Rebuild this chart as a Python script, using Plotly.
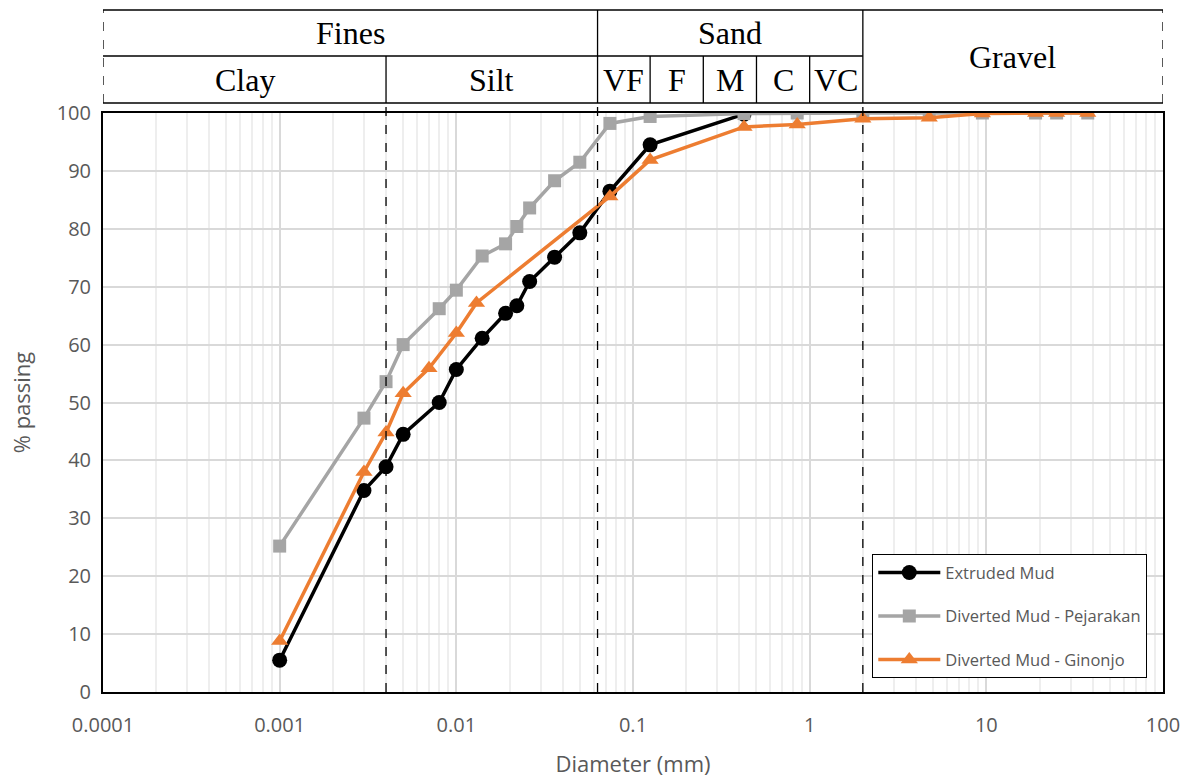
import math
import plotly.graph_objects as go

# ---------------- data ----------------
diam_extruded = [0.001, 0.003, 0.004, 0.005, 0.008, 0.01, 0.014, 0.019, 0.022, 0.026, 0.036, 0.05, 0.074, 0.125, 0.425]
pass_extruded = [5.5, 34.8, 38.9, 44.5, 50.0, 55.7, 61.1, 65.4, 66.7, 70.9, 75.1, 79.3, 86.5, 94.5, 99.8]

diam_pejarakan = [0.001, 0.003, 0.004, 0.005, 0.008, 0.01, 0.014, 0.019, 0.022, 0.026, 0.036, 0.05,
                  0.074, 0.125, 0.425, 0.85, 2.0, 4.75, 9.5, 19.0, 25.0, 37.5]
pass_pejarakan = [25.2, 47.3, 53.6, 60.0, 66.2, 69.4, 75.3, 77.4, 80.4, 83.6, 88.3, 91.5,
                  98.2, 99.4, 99.9, 100, 100, 100, 100, 100, 100, 100]

diam_ginonjo = [0.001, 0.003, 0.004, 0.005, 0.007, 0.01, 0.013, 0.074, 0.125, 0.425, 0.85, 2.0,
                4.75, 9.5, 19.0, 25.0, 37.5]
pass_ginonjo = [8.8, 38.0, 44.8, 51.6, 55.9, 62.0, 67.2, 85.6, 91.9, 97.6, 98.0, 99.0,
                99.2, 99.9, 100, 100, 100]

series_names = ["Extruded Mud", "Diverted Mud - Pejarakan", "Diverted Mud - Ginonjo"]

x_tick_vals = [0.0001, 0.001, 0.01, 0.1, 1, 10, 100]
x_tick_text = ["0.0001", "0.001", "0.01", "0.1", "1", "10", "100"]

# size-class boundaries (mm)
x_min, x_max = 0.0001, 100
clay_silt = 0.004
fines_sand = 0.063
sand_gravel = 2.0
sand_bounds = [0.063, 0.125, 0.25, 0.5, 1.0, 2.0]
sand_labels = ["VF", "F", "M", "C", "VC"]

# ---------------- figure ----------------
W, H = 1190, 780
L, R, T, B = 103, 27, 113, 88
ph = H - T - B

def py(px):  # pixel row -> paper y
    return (H - B - px) / ph

y_top = py(10)
y_mid = py(56)
y_bot = py(103)

fig = go.Figure()
fig.add_trace(go.Scatter(x=diam_extruded, y=pass_extruded, name=series_names[0], mode="lines+markers",
                         line=dict(color="#000000", width=3.5),
                         marker=dict(symbol="circle", size=15, color="#000000"),
                         legendgroup="a"))
fig.add_trace(go.Scatter(x=diam_pejarakan, y=pass_pejarakan, name=series_names[1], mode="lines+markers",
                         line=dict(color="#A5A5A5", width=3.5),
                         marker=dict(symbol="square", size=13, color="#A5A5A5"),
                         legendgroup="b"))
fig.add_trace(go.Scatter(x=diam_ginonjo, y=pass_ginonjo, name=series_names[2], mode="lines+markers",
                         line=dict(color="#ED7D31", width=3.5),
                         marker=dict(symbol="triangle-up", size=15, color="#ED7D31"),
                         legendgroup="c"))

shapes = []
line_k = dict(color="black", width=1.3)
dash_k = dict(color="black", width=1.3, dash="dash")

# dashed class boundaries through plot up to header
for b in [clay_silt, fines_sand, sand_gravel]:
    shapes.append(dict(type="line", xref="x", yref="paper", x0=b, x1=b, y0=0, y1=y_bot, line=dash_k, layer="above"))

# header frame
shapes.append(dict(type="line", xref="x", yref="paper", x0=x_min, x1=x_max, y0=y_top, y1=y_top, line=line_k))
shapes.append(dict(type="line", xref="x", yref="paper", x0=x_min, x1=x_max, y0=y_bot, y1=y_bot, line=line_k))
shapes.append(dict(type="line", xref="x", yref="paper", x0=x_min, x1=sand_gravel, y0=y_mid, y1=y_mid, line=line_k))
shapes.append(dict(type="line", xref="x", yref="paper", x0=x_min, x1=x_min, y0=y_bot, y1=y_top, line=dash_k))
shapes.append(dict(type="line", xref="x", yref="paper", x0=x_max, x1=x_max, y0=y_bot, y1=y_top, line=dash_k))
for b in [fines_sand, sand_gravel]:
    shapes.append(dict(type="line", xref="x", yref="paper", x0=b, x1=b, y0=y_bot, y1=y_top, line=line_k))
for b in [clay_silt] + sand_bounds[1:-1]:
    shapes.append(dict(type="line", xref="x", yref="paper", x0=b, x1=b, y0=y_bot, y1=y_mid, line=line_k))

annotations = []
hfont = dict(family="Liberation Serif", size=32, color="black")

def lc(a, b):
    return (math.log10(a) + math.log10(b)) / 2

def head(text, a, b, y0, y1):
    annotations.append(dict(text=text, xref="x", yref="paper", x=lc(a, b), y=(y0 + y1) / 2,
                            showarrow=False, font=hfont, xanchor="center", yanchor="middle"))

head("Fines", x_min, fines_sand, y_mid, y_top)
head("Sand", fines_sand, sand_gravel, y_mid, y_top)
head("Gravel", sand_gravel, x_max, y_bot, y_top)
head("Clay", x_min, clay_silt, y_bot, y_mid)
head("Silt", clay_silt, fines_sand, y_bot, y_mid)
for i, lab in enumerate(sand_labels):
    head(lab, sand_bounds[i], sand_bounds[i + 1], y_bot, y_mid)

tick_font = dict(family="Open Sans", size=20, color="#595959")
title_font = dict(family="Open Sans", size=22, color="#595959")

fig.update_layout(
    width=W, height=H,
    margin=dict(l=L, r=R, t=T, b=B),
    paper_bgcolor="white", plot_bgcolor="white",
    shapes=shapes, annotations=annotations,
    showlegend=True,
    legend=dict(x=(872 - L) / 1060, y=py(554), xanchor="left", yanchor="top",
                bgcolor="white", bordercolor="black", borderwidth=1.3,
                font=dict(family="Open Sans", size=16.5, color="#595959"),
                tracegroupgap=19, traceorder="grouped", itemwidth=62),
    xaxis=dict(type="log", range=[math.log10(x_min), math.log10(x_max)],
               tickvals=x_tick_vals, ticktext=x_tick_text, tickfont=tick_font,
               showgrid=True, gridcolor="#d9d9d9", gridwidth=2,
               minor=dict(dtick="D1", showgrid=True, gridcolor="#eeeeee", gridwidth=1.5),
               showline=True, linecolor="black", linewidth=2, mirror=True,
               ticks="", ticklabelstandoff=14, zeroline=False, automargin=False,
               title=dict(text="Diameter (mm)", font=title_font, standoff=20)),
    yaxis=dict(range=[0, 100], dtick=10, tickfont=tick_font,
               showgrid=True, gridcolor="#d9d9d9", gridwidth=2,
               showline=True, linecolor="black", linewidth=2, mirror=True,
               ticks="", ticklabelstandoff=6, zeroline=False, automargin=False,
               title=dict(text="% passing", font=title_font, standoff=20)),
)

fig.write_html("out.html", config={"displayModeBar": False},
               post_script="document.body.style.margin='0px';")
